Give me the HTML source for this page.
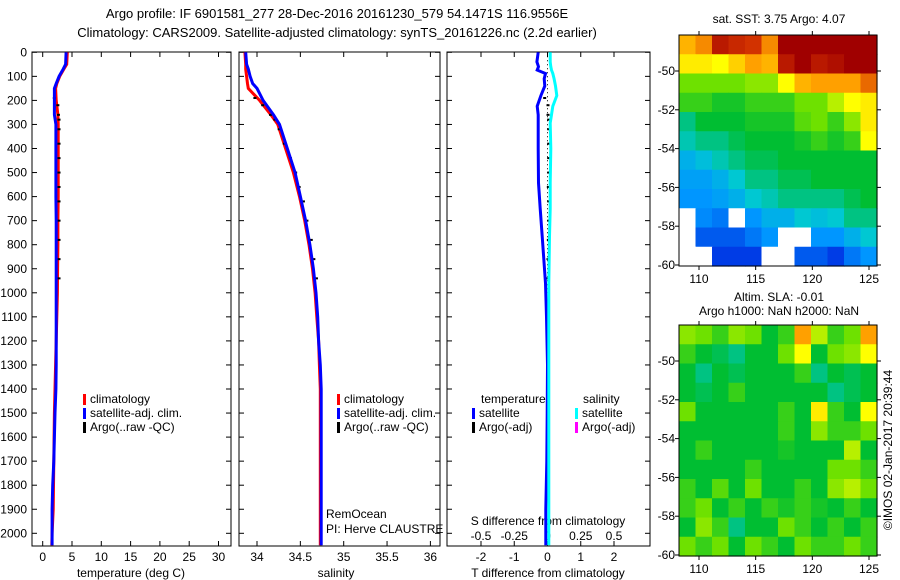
<!DOCTYPE html>
<html><head><meta charset="utf-8">
<style>
html,body{margin:0;padding:0;background:#fff;}
svg{display:block;font-family:"Liberation Sans",sans-serif;}
</style></head>
<body>
<svg id="c" width="900" height="580" viewBox="0 0 900 580">
<text x="337" y="18" font-size="13" text-anchor="middle">Argo profile: IF 6901581_277 28-Dec-2016 20161230_579 54.1471S 116.9556E</text>
<text x="337" y="37" font-size="13" text-anchor="middle">Climatology: CARS2009. Satellite-adjusted climatology: synTS_20161226.nc (2.2d earlier)</text>
<g id="g"></g>
</svg>
<script>
// ---- data ----
const depthTicks=[0,100,200,300,400,500,600,700,800,900,1000,1100,1200,1300,1400,1500,1600,1700,1800,1900,2000];
const tTicks=[0,5,10,15,20,25,30];
const sTicks=[34,34.5,35,35.5,36];
const dtTicks=[-2,-1,0,1,2];
const dsTicks=[-0.5,-0.25,0,0.25,0.5];
const dsTickLabels=["-0.5","-0.25","0","0.25","0.5"];
const profDepth=[0,50,70,100,130,150,200,260,300,400,500,600,700,800,900,1000,1100,1200,1300,1400,1500,1600,1700,1800,1900,2000,2050];
const tempClim=[4.2,4.1,3.6,2.9,2.4,2.2,2.3,2.6,2.65,2.65,2.65,2.65,2.6,2.6,2.55,2.5,2.4,2.3,2.2,2.1,2.0,1.95,1.9,1.85,1.8,1.6,1.55];
const tempSat=[4.0,3.9,3.5,2.8,2.3,2.0,2.0,2.0,2.25,2.25,2.25,2.25,2.3,2.3,2.3,2.3,2.3,2.3,2.3,2.25,2.1,2.0,1.9,1.7,1.6,1.6,1.6];
const salClim=[33.86,33.87,33.87,33.88,33.89,33.9,34.03,34.16,34.24,34.33,34.42,34.49,34.55,34.6,34.64,34.67,34.69,34.71,34.72,34.73,34.73,34.73,34.73,34.73,34.73,34.73,34.73];
const salSat=[33.87,33.88,33.9,33.92,33.95,34.0,34.07,34.19,34.26,34.35,34.44,34.5,34.56,34.61,34.65,34.68,34.7,34.71,34.73,34.74,34.74,34.74,34.74,34.74,34.74,34.74,34.74];
const dDepth=[0,40,60,74,88,110,140,180,224,260,294,400,543,650,765,960,1100,1300,1500,1700,1900,2000,2050];
const dTsat=[-0.28,-0.32,-0.27,-0.31,-0.06,-0.1,-0.08,-0.2,-0.31,-0.28,-0.28,-0.28,-0.27,-0.22,-0.16,-0.06,-0.03,0,-0.01,-0.02,-0.05,-0.05,-0.05];
const dSsat=[0.02,0.02,0.025,0.03,0.04,0.05,0.06,0.07,0.04,0.03,0.02,0.025,0.02,0.02,0.015,0.01,0.01,0.01,0.01,0.01,0.01,0.01,0.01];
const argoDepth=[190,220,260,280,320,380,440,500,560,620,700,780,860,940];
const argoTemp=[1.9,2.5,2.6,2.7,2.7,2.7,2.7,2.7,2.7,2.7,2.7,2.7,2.7,2.7];
const argoSal=[33.97,34.06,34.15,34.2,34.25,34.31,34.38,34.44,34.48,34.53,34.57,34.62,34.65,34.68];
const argoDT=[-0.1,0.0,0.0,0.02,0.02,0.02,0.02,0.02,0.01,0.02,0.02,0.01,0.0,0.0];
const sstLatTicks=[-50,-52,-54,-56,-58,-60];
const lonTicks=[110,115,120,125];
const sstGrid=[
[0.78,0.82,0.95,0.92,0.9,0.82,1,1,1,1,1,1],
[0.72,0.72,0.7,0.75,0.8,0.78,0.95,1,0.95,0.97,1,1],
[0.6,0.6,0.6,0.6,0.62,0.62,0.7,0.78,0.8,0.8,0.8,0.85],
[0.55,0.55,0.52,0.52,0.55,0.55,0.55,0.6,0.6,0.65,0.7,0.72],
[0.45,0.5,0.5,0.5,0.52,0.52,0.52,0.58,0.6,0.55,0.62,0.72],
[0.42,0.45,0.45,0.48,0.5,0.5,0.5,0.52,0.55,0.52,0.55,0.7],
[0.35,0.38,0.42,0.45,0.48,0.48,0.5,0.5,0.5,0.5,0.5,0.5],
[0.32,0.32,0.35,0.4,0.45,0.45,0.48,0.48,0.5,0.5,0.5,0.5],
[0.3,0.3,0.32,0.35,0.4,0.42,0.45,0.45,0.45,0.45,0.48,0.5],
[null,0.28,0.25,null,0.3,0.35,0.35,0.4,0.38,0.4,0.45,0.45],
[null,0.2,0.2,0.2,0.25,0.3,null,null,0.3,0.3,0.35,0.4],
[null,null,0.15,0.15,0.15,null,null,0.2,0.2,0.15,0.25,0.3]];
const slaGrid=[
[0.62,0.6,0.55,0.62,0.6,0.5,0.55,0.8,0.65,0.55,0.6,0.8],
[0.55,0.5,0.48,0.45,0.5,0.5,0.6,0.7,0.5,0.6,0.62,0.7],
[0.5,0.45,0.5,0.48,0.5,0.5,0.5,0.55,0.45,0.5,0.48,0.5],
[0.5,0.48,0.5,0.55,0.5,0.5,0.5,0.5,0.5,0.45,0.48,0.5],
[0.6,0.5,0.5,0.5,0.5,0.5,0.55,0.5,0.72,0.55,0.5,0.7],
[0.5,0.5,0.5,0.5,0.5,0.5,0.55,0.5,0.62,0.55,0.55,0.6],
[0.5,0.55,0.5,0.5,0.5,0.5,0.52,0.5,0.5,0.5,0.65,0.5],
[0.5,0.5,0.5,0.5,0.55,0.5,0.5,0.5,0.5,0.6,0.6,0.55],
[0.55,0.5,0.58,0.5,0.6,0.5,0.5,0.55,0.5,0.62,0.65,0.6],
[0.55,0.6,0.5,0.55,0.5,0.55,0.52,0.55,0.52,0.5,0.55,0.5],
[0.5,0.62,0.55,0.45,0.5,0.5,0.6,0.55,0.5,0.55,0.5,0.55],
[0.6,0.55,0.6,0.5,0.6,0.55,0.5,0.6,0.55,0.55,0.6,0.55]];

// ---- helpers ----
const NS="http://www.w3.org/2000/svg";
const G=document.getElementById('g');
function mk(tag,attrs,parent){const e=document.createElementNS(NS,tag);for(const k in attrs)e.setAttribute(k,attrs[k]);(parent||G).appendChild(e);return e;}
function txt(x,y,s,anchor,size){const t=mk('text',{x:x,y:y,'font-size':size||12,'text-anchor':anchor||'start'});t.textContent=s;return t;}
const yD=d=>52.3+d*0.2405;
const xT=v=>42.7+v*5.86;
const xS=v=>257+(v-34)*86.7;
const xDT=v=>547.5+v*33.25;
const xDS=v=>547.5+v*133;
const BOT=546;

function frame(x0,x1,name){
  const r=mk('rect',{x:x0,y:52,width:x1-x0,height:BOT-52,fill:'none',stroke:'#000','stroke-width':1});
  
  
  depthTicks.forEach(d=>{mk('line',{x1:x0,x2:x0+5,y1:yD(d),y2:yD(d),stroke:'#000'});mk('line',{x1:x1,x2:x1-5,y1:yD(d),y2:yD(d),stroke:'#000'});});
}
function line(xs,ds,xf,color,w,name){
  const pts=xs.map((v,i)=>xf(v).toFixed(1)+','+yD(ds[i]).toFixed(1)).join(' ');
  const p=mk('polyline',{points:pts,fill:'none',stroke:color,'stroke-width':w});
  
  
}
function dashes(xs,ds,xf,name){
  xs.forEach((v,i)=>{const r=mk('rect',{x:xf(v)-1,y:yD(ds[i])-1,width:3,height:2,fill:'#000'});
  
  });
}
function legend(x,y,items,name){
  items.forEach((it,i)=>{mk('rect',{x:x,y:y+i*14-9,width:3,height:11,fill:it[0]});
   const t=txt(x+7,y+i*14,it[1]);
   
   });
}

// Panel 1 temperature
frame(32,231,'temperature-panel');
depthTicks.forEach(d=>{const t=txt(27,yD(d)+4,String(d),'end');});
tTicks.forEach(v=>{mk('line',{x1:xT(v),x2:xT(v),y1:BOT,y2:BOT-5,stroke:'#000'});mk('line',{x1:xT(v),x2:xT(v),y1:52,y2:57,stroke:'#000'});
 const t=txt(xT(v),561,String(v),'middle');});
const t1=txt(131,577,'temperature (deg C)','middle');
line(tempClim,profDepth,xT,'#f00',3,'temperature-climatology-line');
dashes(argoTemp,argoDepth,xT,'temperature-argo-point');
line(tempSat,profDepth,xT,'#00f',3,'temperature-satellite-line');
legend(83,403,[['#f00','climatology'],['#00f','satellite-adj. clim.'],['#000','Argo(..raw -QC)']],'temperature-legend-entry');

// Panel 2 salinity
frame(239,440,'salinity-panel');
sTicks.forEach(v=>{mk('line',{x1:xS(v),x2:xS(v),y1:BOT,y2:BOT-5,stroke:'#000'});mk('line',{x1:xS(v),x2:xS(v),y1:52,y2:57,stroke:'#000'});
 const t=txt(xS(v),561,String(v),'middle');});
const t2=txt(336,577,'salinity','middle');
line(salClim,profDepth,xS,'#f00',3,'salinity-climatology-line');
dashes(argoSal,argoDepth,xS,'salinity-argo-point');
line(salSat,profDepth,xS,'#00f',3,'salinity-satellite-line');
legend(337,403,[['#f00','climatology'],['#00f','satellite-adj. clim.'],['#000','Argo(..raw -QC)']],'salinity-legend-entry');
const r1=txt(326,518,'RemOcean');
const r2=txt(326,533,'PI: Herve CLAUSTRE');

// Panel 3 differences
frame(447,650,'difference-panel');
dtTicks.forEach(v=>{mk('line',{x1:xDT(v),x2:xDT(v),y1:BOT,y2:BOT-5,stroke:'#000'});
 const t=txt(xDT(v),561,String(v),'middle');});
dsTicks.forEach((v,i)=>{mk('line',{x1:xDS(v),x2:xDS(v),y1:52,y2:57,stroke:'#000'});
 const t=txt(xDS(v),540,dsTickLabels[i],'middle');});
const t3=txt(548,577,'T difference from climatology','middle');
const t4=txt(548,525,'S difference from climatology','middle');
const zl=mk('line',{x1:xDT(0),x2:xDT(0),y1:yD(0),y2:yD(1000),stroke:'#000','stroke-dasharray':'1,3'});
dashes(argoDT,argoDepth,xDT,'t-diff-argo-point');
line(dTsat,dDepth,xDT,'#00f',3,'t-diff-satellite-line');
line(dSsat,dDepth,xDS,'#0ff',3,'s-diff-satellite-line');
const lt=txt(481,403,'temperature');
const ls=txt(583,403,'salinity');
legend(472,417,[['#00f','satellite'],['#000','Argo(-adj)']],'t-diff-legend-entry');
legend(575,417,[['#0ff','satellite'],['#f0f','Argo(-adj)']],'s-diff-legend-entry');

// ---- maps ----
const stops=[[0,[0,0,140]],[0.15,[0,60,230]],[0.3,[0,150,255]],[0.4,[0,200,210]],[0.5,[0,190,50]],[0.6,[110,225,0]],[0.7,[255,255,0]],[0.8,[255,160,0]],[0.9,[210,50,0]],[1,[160,0,0]]];
function cmap(v){for(let i=1;i<stops.length;i++){if(v<=stops[i][0]){const a=stops[i-1],b=stops[i];const f=(v-a[0])/(b[0]-a[0]);
 const c=a[1].map((x,k)=>Math.round(x+(b[1][k]-x)*f));return 'rgb('+c.join(',')+')';}}return 'rgb(160,0,0)';}
function mapPanel(y0,y1,latM60,latM50,grid,name,cellName){
  const x0=679,x1=877;
  const nr=grid.length,nc=grid[0].length,cw=(x1-x0)/nc,ch=(y1-y0)/nr;
  grid.forEach((row,r)=>row.forEach((v,c)=>{
    const cell=mk('rect',{x:(x0+c*cw).toFixed(2),y:(y0+r*ch).toFixed(2),width:(cw+0.6).toFixed(2),height:(ch+0.6).toFixed(2),fill:v===null?'#fff':cmap(v)});
    
    
  }));
  const f=mk('rect',{x:x0,y:y0,width:x1-x0,height:y1-y0,fill:'none',stroke:'#000'});
  
  
  const yL=l=>latM50+(l+50)/(-10)*(latM60-latM50);
  const xL=l=>699+(l-110)*(869-699)/15;
  sstLatTicks.forEach(l=>{mk('line',{x1:x0-4,x2:x0,y1:yL(l),y2:yL(l),stroke:'#000'});mk('line',{x1:x1,x2:x1+4,y1:yL(l),y2:yL(l),stroke:'#000'});
   const t=txt(x0-4,yL(l)+4,String(l),'end');});
  lonTicks.forEach(l=>{mk('line',{x1:xL(l),x2:xL(l),y1:y1,y2:y1+4,stroke:'#000'});mk('line',{x1:xL(l),x2:xL(l),y1:y0-4,y2:y0,stroke:'#000'});
   const t=txt(xL(l),y1+17,String(l),'middle');});
}
mapPanel(35,266,265,71,sstGrid,'sst-map','sst-cell');
mapPanel(325,556,555,361,slaGrid,'sla-map','sla-cell');
const m1=txt(779,23,'sat. SST: 3.75 Argo: 4.07','middle');
const m2=txt(779,301,'Altim. SLA: -0.01','middle');
const m3=txt(779,315,'Argo h1000: NaN h2000: NaN','middle');
const cp=txt(0,0,'©IMOS 02-Jan-2017 20:39:44','middle');
cp.setAttribute('transform','translate(892,450) rotate(-90)');


</script>
</body></html>
